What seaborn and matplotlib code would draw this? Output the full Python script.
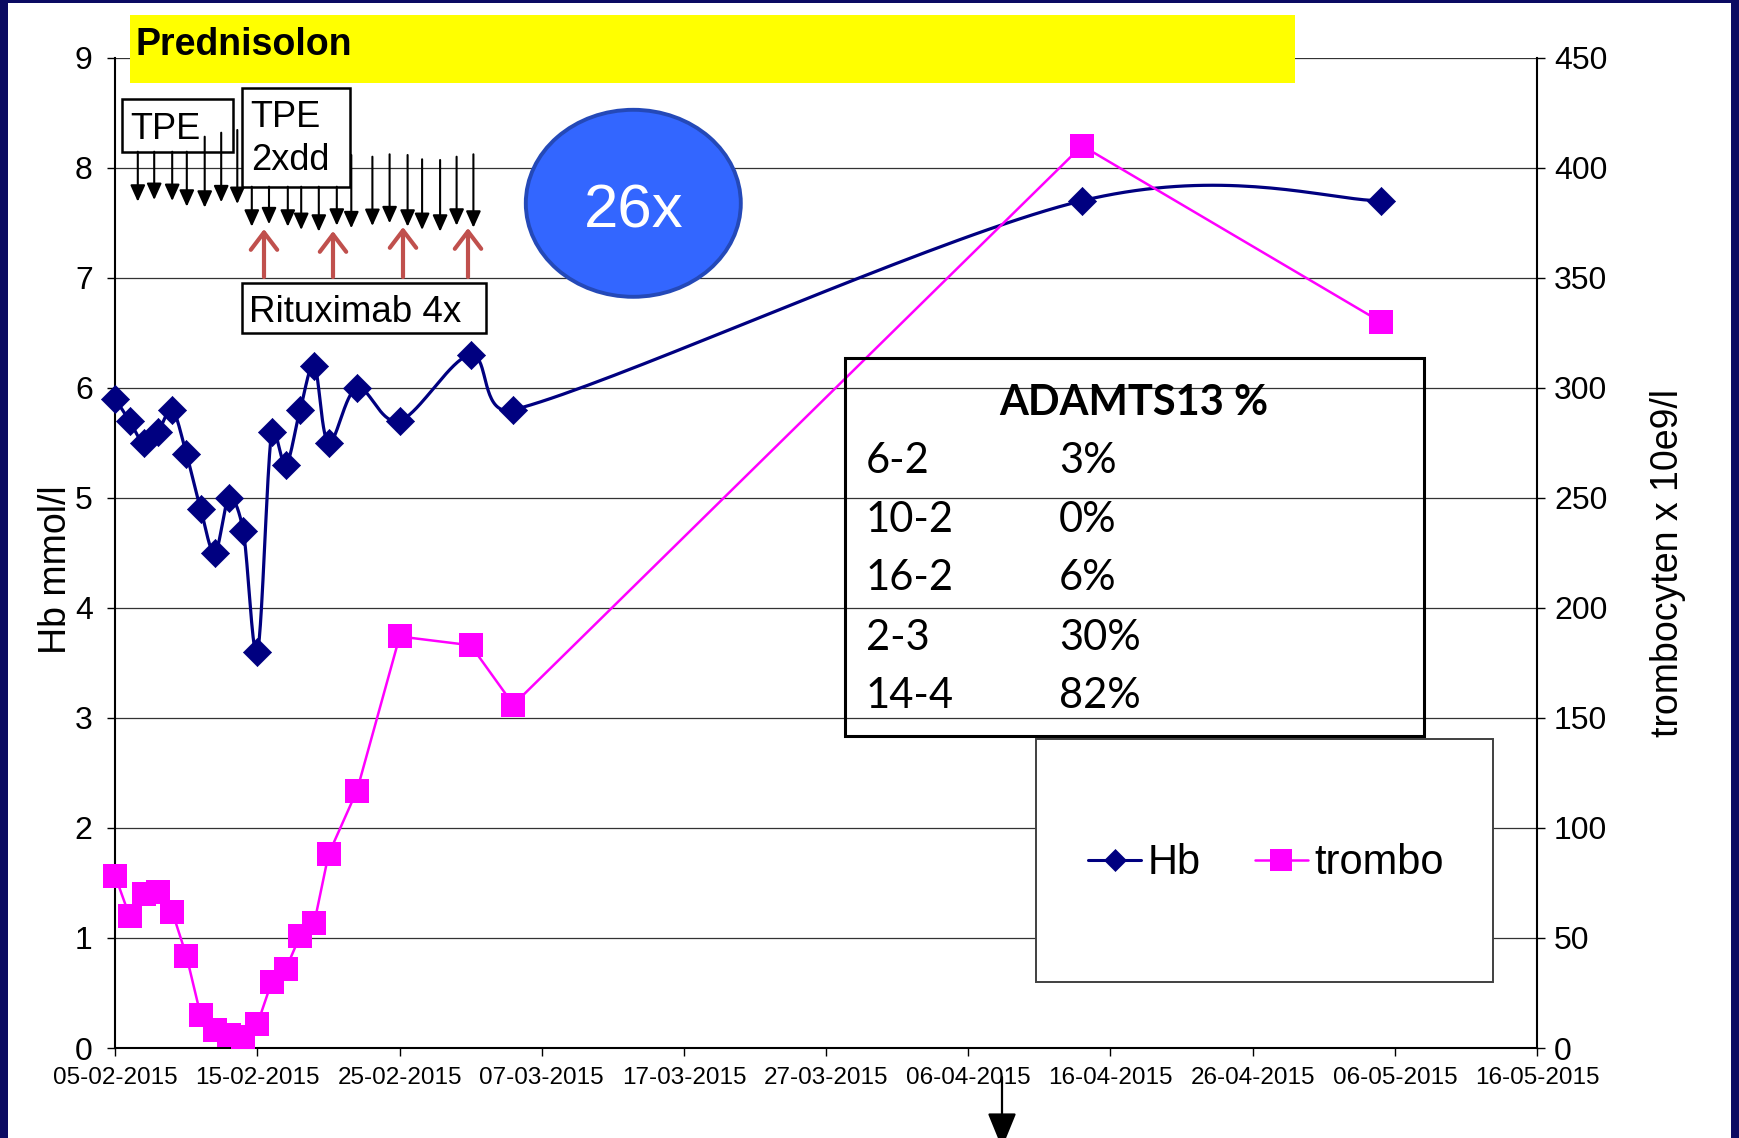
import numpy as np
import pandas as pd
import matplotlib
matplotlib.use("Agg")
import matplotlib.pyplot as plt
import matplotlib.dates as mdates
from matplotlib.patches import Rectangle, Ellipse, FancyArrowPatch
from matplotlib.lines import Line2D
from matplotlib.ticker import FixedLocator
import seaborn as sns

# ---- data -------------------------------------------------------------
dates = ["05-02-2015", "06-02-2015", "07-02-2015", "08-02-2015", "09-02-2015",
         "10-02-2015", "11-02-2015", "12-02-2015", "13-02-2015", "14-02-2015",
         "15-02-2015", "16-02-2015", "17-02-2015", "18-02-2015", "19-02-2015",
         "20-02-2015", "22-02-2015", "25-02-2015", "02-03-2015", "05-03-2015",
         "14-04-2015", "05-05-2015"]
hb = [5.9, 5.7, 5.5, 5.6, 5.8, 5.4, 4.9, 4.5, 5.0, 4.7, 3.6,
      5.6, 5.3, 5.8, 6.2, 5.5, 6.0, 5.7, 6.3, 5.8, 7.7, 7.7]
trombo = [78, 60, 70, 71, 62, 42, 15, 8, 6, 5, 11,
          30, 36, 51, 57, 88, 117, 187, 183, 156, 410, 330]
tick_dates = ["05-02-2015", "15-02-2015", "25-02-2015", "07-03-2015",
              "17-03-2015", "27-03-2015", "06-04-2015", "16-04-2015",
              "26-04-2015", "06-05-2015", "16-05-2015"]
hb_ticks = list(range(0, 10))
trombo_ticks = list(range(0, 451, 50))
adamts_dates = ["6-2", "10-2", "16-2", "2-3", "14-4"]
adamts_values = ["3%", "0%", "6%", "30%", "82%"]

HB_COLOR = "#000080"
TR_COLOR = "#FF00FF"

# ---- figure -----------------------------------------------------------
W, H = 1739, 1138
sns.set_theme(style="ticks")
plt.rcParams["font.family"] = ["Liberation Sans", "DejaVu Sans"]
plt.rcParams["text.color"] = "black"

fig = plt.figure(figsize=(W / 100, H / 100), dpi=100)
fig.patch.set_facecolor("white")


def fx(x):
    return x / W


def fy(y):
    return 1 - y / H


AX_L, AX_R, AX_T, AX_B = 115.3, 1537.0, 57.7, 1048.0
ax = fig.add_axes([fx(AX_L), fy(AX_B), fx(AX_R) - fx(AX_L), fy(AX_T) - fy(AX_B)])
ax2 = ax.twinx()

x = mdates.date2num(pd.to_datetime(dates, format="%d-%m-%Y"))
xt = mdates.date2num(pd.to_datetime(tick_dates, format="%d-%m-%Y"))

ax.set_xlim(xt[0], xt[-1])
ax.set_ylim(0, 9)
ax2.set_ylim(0, 450)


def smooth_curve(axis, xs, ys, n=40):
    """Bezier smoothing through every point, computed in display space."""
    P = axis.transData.transform(np.column_stack([xs, ys]))
    m = len(P)
    out = []
    t = np.linspace(0, 1, n)[:, None]
    for i in range(m - 1):
        p0 = P[i - 1] if i > 0 else P[i]
        p1, p2 = P[i], P[i + 1]
        p3 = P[i + 2] if i + 2 < m else P[i + 1]
        d12 = np.hypot(*(p2 - p1))
        t1 = (p2 - p0) / 6.0
        t2 = (p3 - p1) / 6.0
        cap = d12 / 2.0
        for tv in (t1, t2):
            nv = np.hypot(*tv)
            if nv > cap and nv > 0:
                tv *= cap / nv
        c1, c2 = p1 + t1, p2 - t2
        seg = ((1 - t) ** 3) * p1 + 3 * ((1 - t) ** 2) * t * c1 \
            + 3 * (1 - t) * t ** 2 * c2 + t ** 3 * p2
        out.append(seg if i == 0 else seg[1:])
    D = np.vstack(out)
    Dd = axis.transData.inverted().transform(D)
    return Dd[:, 0], Dd[:, 1]


# Hb: smoothed navy line with diamonds
sx, sy = smooth_curve(ax, x, hb)
sns.lineplot(x=sx, y=sy, ax=ax, color=HB_COLOR, lw=2.3, estimator=None,
             sort=False, legend=False, zorder=3)
sns.scatterplot(x=x, y=hb, ax=ax, marker="D", s=205, color=HB_COLOR,
                edgecolor=HB_COLOR, linewidth=0.5, legend=False, zorder=4,
                clip_on=False)

# trombocytes: straight magenta line with squares (secondary axis)
sns.lineplot(x=x, y=trombo, ax=ax2, color=TR_COLOR, lw=1.8, marker="s",
             markersize=17.5, markeredgewidth=0, estimator=None, sort=False,
             legend=False, clip_on=False)

# ---- axes styling -----------------------------------------------------
ax.xaxis.set_major_locator(FixedLocator(xt))
ax.xaxis.set_major_formatter(mdates.DateFormatter("%d-%m-%Y"))
ax.set_yticks(hb_ticks)
ax2.set_yticks(trombo_ticks)
ax.set_xlabel("")
ax.set_ylabel("")
ax2.set_ylabel("")

ax.grid(axis="y", color="#333333", lw=0.9)
ax.grid(axis="x", visible=False)
ax2.grid(False)

for a in (ax, ax2):
    a.spines["top"].set_visible(False)
ax.spines["right"].set_visible(False)
ax2.spines["left"].set_visible(False)
ax2.spines["bottom"].set_visible(False)
for sp in (ax.spines["left"], ax.spines["bottom"], ax2.spines["right"]):
    sp.set_color("black")
    sp.set_linewidth(1.5)

ax.tick_params(axis="y", direction="out", length=5.8, width=1, color="black",
               labelcolor="black", labelsize=23, pad=10.5, left=True)
ax.tick_params(axis="x", direction="out", length=5.8, width=1, color="black",
               labelcolor="black", labelsize=17.5, pad=8, bottom=True)
ax2.tick_params(axis="y", direction="out", length=5.8, width=1, color="black",
                labelcolor="black", labelsize=23, pad=6.5, right=True)

fig.text(fx(56.5), fy(570), "Hb mmol/l", rotation=90, ha="center",
         va="center", fontsize=27, color="black")
fig.text(fx(1668), fy(563), "trombocyten x 10e9/l", rotation=90, ha="center",
         va="center", fontsize=27, color="black")


# ---- overlay annotations ---------------------------------------------
def box(x0, y0, x1, y1, **kw):
    r = Rectangle((fx(x0), fy(y1)), fx(x1) - fx(x0), fy(y0) - fy(y1),
                  transform=fig.transFigure, **kw)
    fig.add_artist(r)
    return r


def arrow(xa, ya, xb, yb, style, **kw):
    a = FancyArrowPatch((fx(xa), fy(ya)), (fx(xb), fy(yb)),
                        transform=fig.transFigure, arrowstyle=style,
                        mutation_scale=10, shrinkA=0, shrinkB=0, **kw)
    fig.add_artist(a)


# slide frame
NAVY = "#0B0B62"
box(0, 0, 8, H, facecolor=NAVY, edgecolor="none", zorder=10)
box(W - 8, 0, W, H, facecolor=NAVY, edgecolor="none", zorder=10)
box(0, 0, W, 3, facecolor=NAVY, edgecolor="none", zorder=10)

# Prednisolon bar
box(129.8, 15.5, 1294.5, 82.5, facecolor="#FFFF00", edgecolor="none", zorder=2)
fig.text(fx(136), fy(55), "Prednisolon", fontsize=27, fontweight="bold",
         ha="left", va="baseline", color="black", zorder=3)

# TPE boxes
box(121.7, 99.3, 232.7, 151.7, facecolor="white", edgecolor="black", lw=1.8, zorder=2)
fig.text(fx(130), fy(139.3), "TPE", fontsize=26, ha="left", va="baseline",
         color="black", zorder=3)
box(242.2, 88.3, 350.2, 186.7, facecolor="white", edgecolor="black", lw=1.8, zorder=2)
fig.text(fx(250.7), fy(126.7), "TPE", fontsize=26, ha="left", va="baseline",
         color="black", zorder=3)
fig.text(fx(250.7), fy(170), "2xdd", fontsize=26, ha="left", va="baseline",
         color="black", zorder=3)
box(241.9, 282.7, 486.0, 333.3, facecolor="white", edgecolor="black", lw=1.8, zorder=2)
fig.text(fx(248.8), fy(321.7), "Rituximab 4x", fontsize=26.5, ha="left",
         va="baseline", color="black", zorder=3)

# plasma exchange arrows (x, top, tip)
tpe_arrows = [(137.8, 151.7, 201.7), (154.2, 151.7, 200.0), (172.2, 151.7, 201.0),
              (186.8, 151.7, 206.7), (204.7, 136.7, 207.7), (221.2, 132.7, 202.3),
              (237.3, 130.0, 204.0),
              (251.8, 186.7, 226.7), (269.0, 186.7, 224.3), (287.8, 186.7, 226.7),
              (301.2, 186.7, 230.0), (318.8, 186.7, 231.7), (336.8, 186.7, 225.7),
              (351.3, 155.0, 228.3), (372.4, 156.7, 226.0), (389.6, 154.3, 223.3),
              (407.6, 155.0, 226.7), (422.1, 159.3, 230.0), (440.1, 160.0, 231.7),
              (456.6, 156.7, 225.7), (473.4, 154.3, 227.7)]
for xa, ytop, ytip in tpe_arrows:
    arrow(xa, ytop, xa, ytip, "-|>,head_length=1.0,head_width=0.45",
          color="black", lw=1.5, zorder=4)

# rituximab arrows
for xa, ytip in [(264, 229), (333, 231), (403, 227), (468, 228)]:
    arrow(xa, 277, xa, ytip, "->,head_length=1.25,head_width=0.95",
          color="#C0504D", lw=3.0, zorder=4)

# 26x ellipse
ell = Ellipse((fx(633.3), fy(203.3)), fx(215), 187 / H, transform=fig.transFigure,
              facecolor="#3366FF", edgecolor="#2449B8", lw=2.8, zorder=2)
fig.add_artist(ell)
fig.text(fx(633.3), fy(227.7), "26x", fontsize=44.5, color="white",
         ha="center", va="baseline", zorder=3)

# ADAMTS13 table (transparent frame)
box(845.3, 358.3, 1424.0, 736.0, facecolor="none", edgecolor="black", lw=2.2, zorder=2)
LATO = ["Lato", "DejaVu Sans"]
fig.text(fx(1134), fy(415), "ADAMTS13 %", fontsize=30, fontweight="bold",
         family=LATO, ha="center", va="baseline", color="black", zorder=3)
row_base = [473.3, 531.7, 590.0, 650.0, 708.3]
for yb, d, v in zip(row_base, adamts_dates, adamts_values):
    fig.text(fx(866), fy(yb), d, fontsize=30, family=LATO, ha="left",
             va="baseline", color="black", zorder=3)
    fig.text(fx(1059), fy(yb), v, fontsize=30, family=LATO, ha="left",
             va="baseline", color="black", zorder=3)

# legend on an opaque panel
box(1036.3, 739.0, 1493.4, 981.7, facecolor="white", edgecolor="#404040",
    lw=1.4, zorder=2)
handles = [Line2D([], [], color=HB_COLOR, lw=2.2, marker="D", ms=11.5,
                  markeredgewidth=0.5),
           Line2D([], [], color=TR_COLOR, lw=1.8, marker="s", ms=15.5,
                  markeredgewidth=0)]
leg = fig.legend(handles, ["Hb", "trombo"], loc="center",
                 bbox_to_anchor=(fx(1266), fy(863.5)), ncol=2, frameon=False,
                 fontsize=30, handlelength=1.27, handletextpad=0.15,
                 columnspacing=1.3, borderpad=0, numpoints=1, labelcolor="black")
leg.set_zorder(3)

# pointer arrow under the date axis
arrow(1002, 1077, 1002, 1148, "-|>,head_length=2.2,head_width=0.9",
      color="black", lw=1.6, zorder=4)

fig.savefig("out.png", dpi=100, facecolor="white")
